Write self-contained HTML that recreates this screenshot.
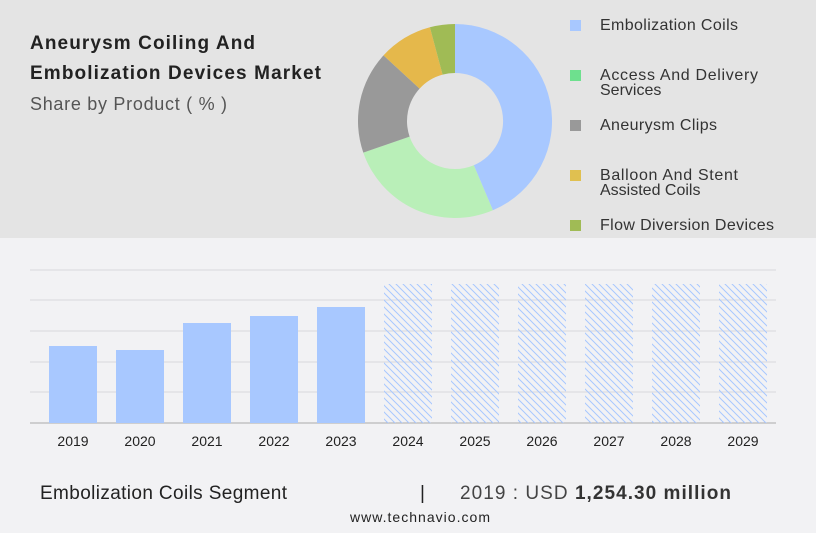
<!DOCTYPE html>
<html><head><meta charset="utf-8"><style>
body{margin:0;width:816px;height:528px;overflow:hidden;background:#f2f2f4;font-family:"Liberation Sans",sans-serif}
</style></head><body>
<svg width="816" height="528" xmlns="http://www.w3.org/2000/svg" font-family="Liberation Sans, sans-serif">
<defs>
<pattern id="h" width="7" height="7" patternUnits="userSpaceOnUse">
<path d="M-1,-1 L8,8 M-1,6 L1,8 M6,-1 L8,1" stroke="#a8c8ff" stroke-width="1"/>
</pattern>
</defs>
<rect x="0" y="0" width="816" height="238" fill="#e4e4e4"/>
<rect x="0" y="238" width="816" height="290" fill="#f2f2f4"/>
<text x="30" y="49" font-size="19" font-weight="bold" fill="#222" textLength="225">Aneurysm Coiling And</text>
<text x="30" y="79" font-size="19" font-weight="bold" fill="#222" textLength="291">Embolization Devices Market</text>
<text x="30" y="110" font-size="18" fill="#555" textLength="197">Share by Product ( % )</text>
<path d="M455,24 A97,97 0 0 1 492.9,210.3 L473.8,165.2 A48,48 0 0 0 455,73 Z" fill="#a8c8ff"/>
<path d="M492.9,210.3 A97,97 0 0 1 363.3,152.6 L409.6,136.6 A48,48 0 0 0 473.8,165.2 Z" fill="#b9efb8"/>
<path d="M363.3,152.6 A97,97 0 0 1 383.5,55.4 L419.6,88.6 A48,48 0 0 0 409.6,136.6 Z" fill="#999"/>
<path d="M383.5,55.4 A97,97 0 0 1 429.9,27.3 L442.6,74.6 A48,48 0 0 0 419.6,88.6 Z" fill="#e5b84b"/>
<path d="M429.9,27.3 A97,97 0 0 1 455,24 L455,73 A48,48 0 0 0 442.6,74.6 Z" fill="#a0bb55"/>
<g font-size="16" fill="#333">
<rect x="570" y="20" width="11" height="11" fill="#a8c8ff"/><text x="600" y="30" textLength="138">Embolization Coils</text>
<rect x="570" y="70" width="11" height="11" fill="#6ee08e"/><text x="600" y="80" textLength="158">Access And Delivery</text><text x="600" y="95">Services</text>
<rect x="570" y="120" width="11" height="11" fill="#999"/><text x="600" y="130" textLength="117">Aneurysm Clips</text>
<rect x="570" y="170" width="11" height="11" fill="#e0c050"/><text x="600" y="180" textLength="138">Balloon And Stent</text><text x="600" y="195">Assisted Coils</text>
<rect x="570" y="220" width="11" height="11" fill="#a0bb55"/><text x="600" y="230" textLength="174">Flow Diversion Devices</text>
</g>
<g stroke="#d8d8dc" stroke-width="1">
<line x1="30" y1="270" x2="776" y2="270"/><line x1="30" y1="300" x2="776" y2="300"/><line x1="30" y1="331" x2="776" y2="331"/><line x1="30" y1="362" x2="776" y2="362"/><line x1="30" y1="392" x2="776" y2="392"/>
</g>
<line x1="30" y1="423" x2="776" y2="423" stroke="#aaa"/>
<g fill="#a8c8ff">
<rect x="49" y="346" width="48" height="77"/><rect x="116" y="350" width="48" height="73"/><rect x="183" y="323" width="48" height="100"/><rect x="250" y="316" width="48" height="107"/><rect x="317" y="307" width="48" height="116"/>
</g>
<g fill="url(#h)">
<rect x="384" y="284" width="48" height="139"/><rect x="451" y="284" width="48" height="139"/><rect x="518" y="284" width="48" height="139"/><rect x="585" y="284" width="48" height="139"/><rect x="652" y="284" width="48" height="139"/><rect x="719" y="284" width="48" height="139"/>
</g>
<g font-size="14" fill="#222" text-anchor="middle">
<text x="73" y="446">2019</text><text x="140" y="446">2020</text><text x="207" y="446">2021</text><text x="274" y="446">2022</text><text x="341" y="446">2023</text><text x="408" y="446">2024</text><text x="475" y="446">2025</text><text x="542" y="446">2026</text><text x="609" y="446">2027</text><text x="676" y="446">2028</text><text x="743" y="446">2029</text>
</g>
<text x="40" y="499" font-size="19" fill="#222" textLength="247">Embolization Coils Segment</text>
<text x="420" y="499" font-size="19" fill="#222">|</text>
<text x="460" y="499" font-size="19" fill="#444" textLength="271">2019 : USD <tspan font-weight="bold" fill="#333">1,254.30 million</tspan></text>
<text x="350" y="522" font-size="14" fill="#222" textLength="140">www.technavio.com</text>
</svg>
</body></html>
